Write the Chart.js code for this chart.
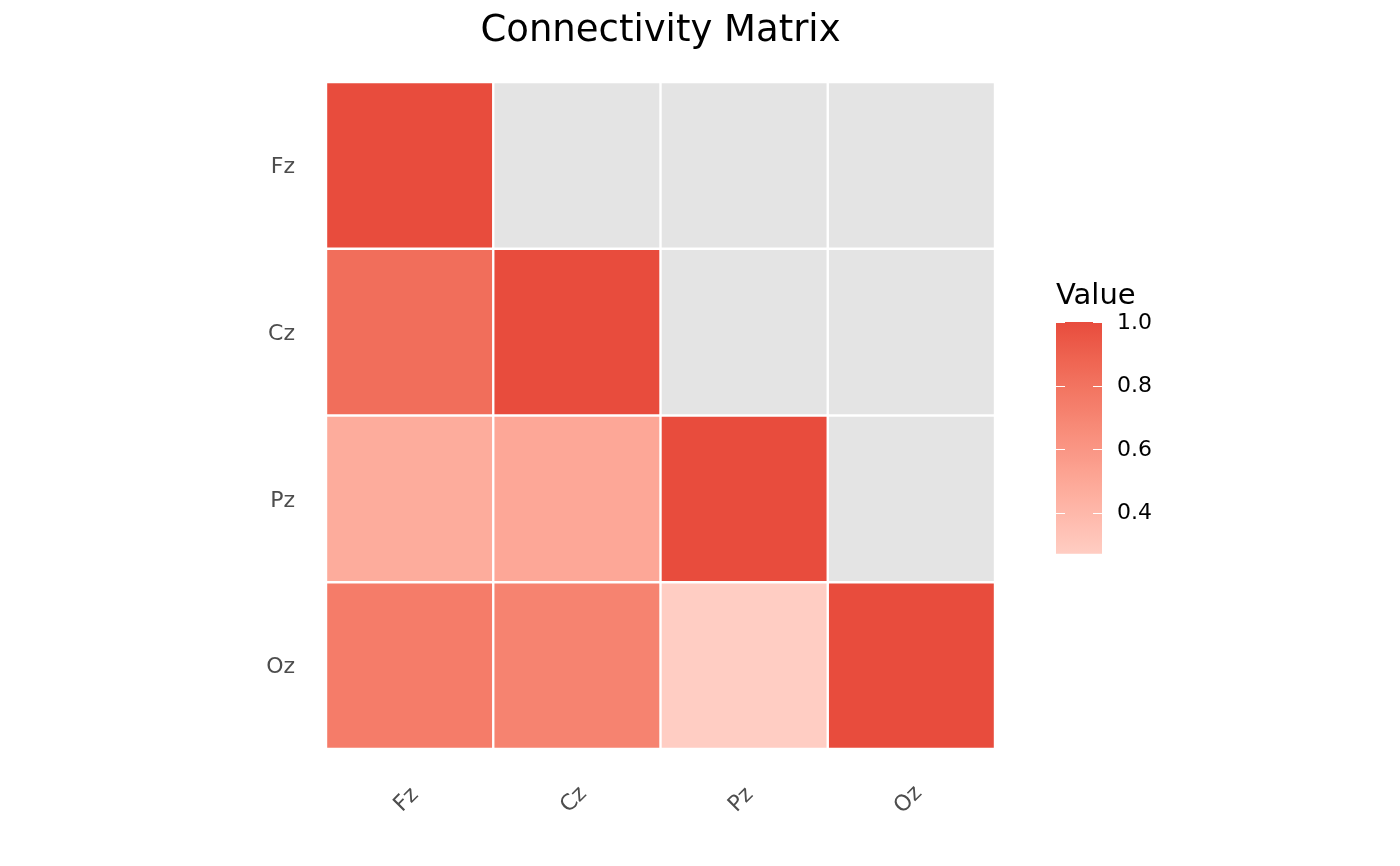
<!DOCTYPE html>
<html lang="en">
<head>
    <meta charset="UTF-8">
    <title>Connectivity Matrix</title>
    <script src="https://cdn.jsdelivr.net/npm/chart.js@4.4.1/dist/chart.umd.min.js"></script>
    <style>
        html, body {
            margin: 0;
            padding: 0;
            background: #ffffff;
        }
        #wrap {
            width: 1400px;
            height: 866px;
        }
    </style>
</head>
<body>
    <div id="wrap"><canvas id="matrix"></canvas></div>
    <script>
        // Channels (columns left to right, rows top to bottom)
        const channels = ['Fz', 'Cz', 'Pz', 'Oz'];

        // Connectivity values per row, null = upper triangle (not shown)
        const rowFz = [1.00, null, null, null];
        const rowCz = [0.83, 1.00, null, null];
        const rowPz = [0.47, 0.50, 1.00, null];
        const rowOz = [0.75, 0.71, 0.27, 1.00];

        const legendTicks = [0.4, 0.6, 0.8, 1.0];

        const lowColor = '#FFCDC3';
        const highColor = '#E84C3D';
        const naColor = '#E4E4E4';
        const textGrey = '#4D4D4D';
        const fontFamily = '"DejaVu Sans", Verdana, sans-serif';

        const rows = [rowFz, rowCz, rowPz, rowOz];
        const allValues = rows.flat().filter(v => v !== null);
        const vMin = Math.min(...allValues);
        const vMax = Math.max(...allValues);

        // --- colour ramp in CIELAB (like ggplot's gradient) ---
        function hexToRgb(h) {
            const n = parseInt(h.slice(1), 16);
            return [(n >> 16) & 255, (n >> 8) & 255, n & 255];
        }
        function rgbToLab(rgb) {
            const lin = rgb.map(c => {
                c /= 255;
                return c <= 0.04045 ? c / 12.92 : Math.pow((c + 0.055) / 1.055, 2.4);
            });
            const X = (0.4124 * lin[0] + 0.3576 * lin[1] + 0.1805 * lin[2]) / 0.95047;
            const Y = (0.2126 * lin[0] + 0.7152 * lin[1] + 0.0722 * lin[2]);
            const Z = (0.0193 * lin[0] + 0.1192 * lin[1] + 0.9505 * lin[2]) / 1.08883;
            const f = t => t > 0.008856 ? Math.cbrt(t) : 7.787 * t + 16 / 116;
            const fx = f(X), fy = f(Y), fz = f(Z);
            return [116 * fy - 16, 500 * (fx - fy), 200 * (fy - fz)];
        }
        function labToRgb(lab) {
            const fy = (lab[0] + 16) / 116;
            const fx = fy + lab[1] / 500;
            const fz = fy - lab[2] / 200;
            const inv = t => (t * t * t > 0.008856) ? t * t * t : (t - 16 / 116) / 7.787;
            const X = inv(fx) * 0.95047, Y = inv(fy), Z = inv(fz) * 1.08883;
            const lin = [
                3.2406 * X - 1.5372 * Y - 0.4986 * Z,
                -0.9689 * X + 1.8758 * Y + 0.0415 * Z,
                0.0557 * X - 0.2040 * Y + 1.0570 * Z
            ];
            return lin.map(c => {
                c = c <= 0.0031308 ? 12.92 * c : 1.055 * Math.pow(c, 1 / 2.4) - 0.055;
                return Math.round(Math.min(1, Math.max(0, c)) * 255);
            });
        }
        const lowLab = rgbToLab(hexToRgb(lowColor));
        const highLab = rgbToLab(hexToRgb(highColor));

        function colorFor(v) {
            if (v === null) return naColor;
            const t = (v - vMin) / (vMax - vMin);
            const lab = lowLab.map((c, i) => c + (highLab[i] - c) * t);
            const rgb = labToRgb(lab);
            return `rgb(${rgb[0]}, ${rgb[1]}, ${rgb[2]})`;
        }

        // Stacked bars: bottom row first, each cell one unit tall
        const datasets = rows.slice().reverse().map((row, i) => ({
            label: channels[channels.length - 1 - i],
            data: row.map(() => 1),
            values: row,
            backgroundColor: row.map(colorFor),
            borderColor: '#ffffff',
            borderWidth: 1.2,
            borderSkipped: false,
            inflateAmount: 0,
            barPercentage: 1.0,
            categoryPercentage: 1.0
        }));

        // title centred over the panel, x labels rotated 45 degrees
        const labelPlugin = {
            id: 'panelLabels',
            afterDraw(chart) {
                const ctx = chart.ctx;
                const area = chart.chartArea;
                const xScale = chart.scales.x;
                ctx.save();
                ctx.font = `37px ${fontFamily}`;
                ctx.fillStyle = '#000000';
                ctx.textAlign = 'center';
                ctx.textBaseline = 'middle';
                ctx.fillText('Connectivity Matrix', (area.left + area.right) / 2, 31);

                ctx.font = `22px ${fontFamily}`;
                ctx.fillStyle = textGrey;
                channels.forEach((name, i) => {
                    const x = xScale.getPixelForTick(i);
                    ctx.save();
                    ctx.translate(x - 3, area.bottom + 51);
                    ctx.rotate(-Math.PI / 4);
                    ctx.fillText(name, 0, 0);
                    ctx.restore();
                });
                ctx.restore();
            }
        };

        // colour bar legend
        const colorBarPlugin = {
            id: 'colorBar',
            afterDraw(chart) {
                const ctx = chart.ctx;
                const barLeft = 1056, barWidth = 46;
                const yTop = 322;          // pixel of value 1.0
                const pxPerUnit = 317.5;   // 0.2 per 63.5 px
                const yOf = v => yTop + (1.0 - v) * pxPerUnit;
                const yBottom = yOf(vMin);
                const yMaxPx = yOf(vMax);

                const grad = ctx.createLinearGradient(0, yBottom, 0, yMaxPx);
                for (let s = 0; s <= 30; s++) {
                    grad.addColorStop(s / 30, colorFor(vMin + (vMax - vMin) * s / 30));
                }
                ctx.save();
                ctx.fillStyle = grad;
                ctx.fillRect(barLeft, yMaxPx, barWidth, yBottom - yMaxPx);

                ctx.strokeStyle = '#ffffff';
                ctx.lineWidth = 1;
                ctx.font = `22px ${fontFamily}`;
                ctx.fillStyle = '#000000';
                ctx.textAlign = 'left';
                ctx.textBaseline = 'middle';
                legendTicks.forEach(t => {
                    const y = Math.round(yOf(t)) + 0.5;
                    ctx.beginPath();
                    ctx.moveTo(barLeft, y);
                    ctx.lineTo(barLeft + 9, y);
                    ctx.moveTo(barLeft + barWidth - 9, y);
                    ctx.lineTo(barLeft + barWidth, y);
                    ctx.stroke();
                    ctx.fillText(t.toFixed(1), 1117, yOf(t) + 1);
                });

                ctx.font = `29px ${fontFamily}`;
                ctx.textBaseline = 'alphabetic';
                ctx.fillText('Value', 1056, 304);
                ctx.restore();
            }
        };

        const ctx = document.getElementById('matrix').getContext('2d');
        const matrixChart = new Chart(ctx, {
            type: 'bar',
            data: {
                labels: channels,
                datasets: datasets
            },
            options: {
                responsive: true,
                maintainAspectRatio: false,
                animation: false,
                layout: {
                    padding: { left: 0, right: 405, top: 82, bottom: 0 }
                },
                plugins: {
                    legend: { display: false },
                    tooltip: { enabled: false },
                    title: { display: false }
                },
                scales: {
                    x: {
                        stacked: true,
                        grid: { display: false, drawTicks: false },
                        border: { display: false },
                        ticks: { display: false },
                        afterFit(scale) { scale.height = 117; }
                    },
                    y: {
                        stacked: true,
                        min: 0,
                        max: channels.length,
                        grid: { display: false, drawTicks: false },
                        border: { display: false },
                        afterBuildTicks(scale) {
                            scale.ticks = channels.map((c, i) => ({ value: i + 0.5 }));
                        },
                        ticks: {
                            color: textGrey,
                            padding: 31,
                            labelOffset: 2,
                            font: { family: fontFamily, size: 22 },
                            callback: (value) => channels[channels.length - 1 - Math.floor(value)]
                        },
                        afterFit(scale) { scale.width = 326; }
                    }
                }
            },
            plugins: [labelPlugin, colorBarPlugin]
        });
    </script>
</body>
</html>
